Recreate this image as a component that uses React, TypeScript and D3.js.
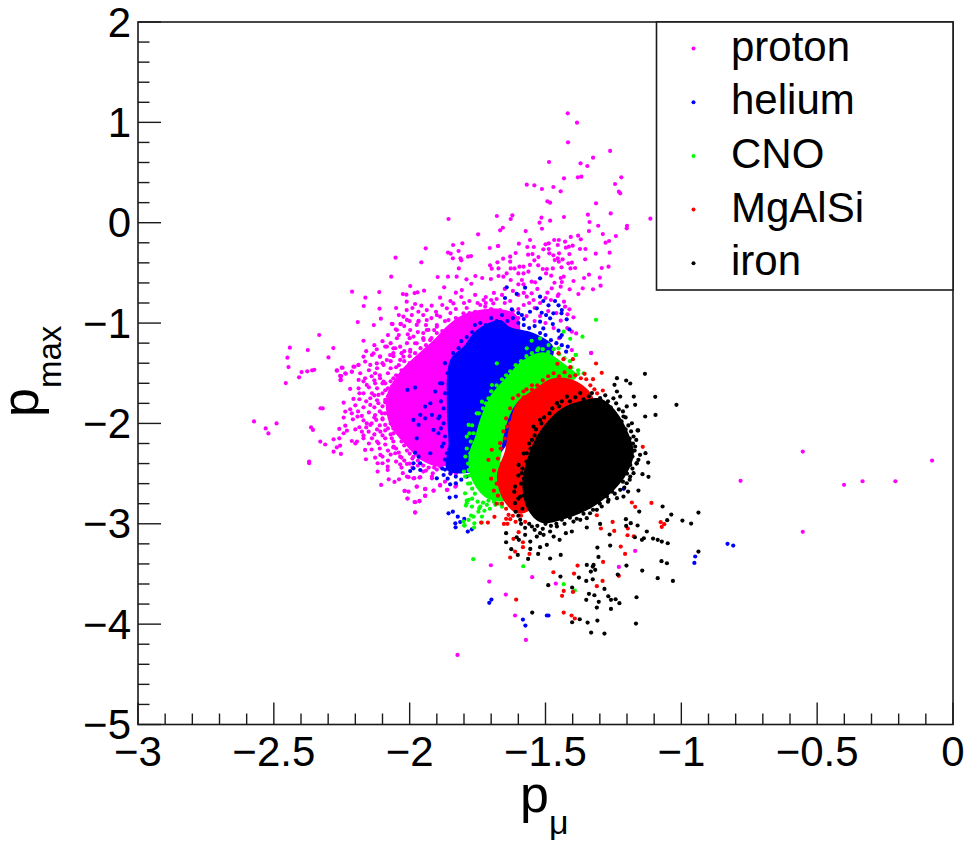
import React from "react";
import * as d3 from "d3";

type P = [number, number];

const seriesNames = ["proton", "helium", "CNO", "MgAlSi", "iron"];
const seriesColors = ["#ff00ff", "#0000ff", "#00ff00", "#ff0000", "#000000"];
const xTickValues = [-3, -2.5, -2, -1.5, -1, -0.5, 0];
const xTickLabels = ["−3", "−2.5", "−2", "−1.5", "−1", "−0.5", "0"];
const yTickValues = [-5, -4, -3, -2, -1, 0, 1, 2];
const yTickLabels = ["−5", "−4", "−3", "−2", "−1", "0", "1", "2"];

// Outlines of the regions where thousands of points merge into a solid colour.
const protonDense: P[] = [[-2.085,-1.733],[-2.04,-1.5],[-1.98,-1.334],[-1.912,-1.168],[-1.851,-1.002],[-1.79,-0.902],[-1.667,-0.86],[-1.6,-0.95],[-1.667,-1.866],[-1.79,-2.264],[-1.875,-2.43],[-1.949,-2.38],[-2.02,-2.2],[-2.075,-1.999]];
const heliumDense: P[] = [[-1.863,-1.866],[-1.851,-1.367],[-1.802,-1.234],[-1.753,-1.068],[-1.667,-0.969],[-1.63,-1.04],[-1.544,-1.1],[-1.471,-1.24],[-1.5,-1.5],[-1.7,-2.4],[-1.802,-2.497],[-1.863,-2.464],[-1.857,-2.198]];
const cnoDense: P[] = [[-1.741,-1.964],[-1.704,-1.732],[-1.642,-1.532],[-1.581,-1.366],[-1.507,-1.29],[-1.434,-1.4],[-1.385,-1.532],[-1.606,-1.798],[-1.667,-2.496],[-1.642,-2.762],[-1.716,-2.745],[-1.771,-2.562],[-1.783,-2.33],[-1.759,-2.13]];
const mgalsiDense: P[] = [[-1.606,-1.798],[-1.544,-1.665],[-1.471,-1.549],[-1.385,-1.582],[-1.323,-1.765],[-1.421,-2.164],[-1.556,-2.861],[-1.606,-2.895],[-1.655,-2.762],[-1.679,-2.529],[-1.648,-2.263],[-1.636,-2.064]];
const ironDense: P[] = [[-1.372,-1.78],[-1.30,-1.75],[-1.24,-1.88],[-1.195,-2.097],[-1.175,-2.297],[-1.2,-2.496],[-1.25,-2.67],[-1.33,-2.84],[-1.421,-2.945],[-1.515,-2.99],[-1.565,-2.861],[-1.585,-2.629],[-1.575,-2.43],[-1.545,-2.197],[-1.505,-2.02],[-1.44,-1.85]];

const protonPoints: P[] = [
[-1.418,1.09],[-1.384,0.997],[-1.417,0.801],[-1.262,0.715],[-1.325,0.648],[-1.487,0.605],[-1.371,0.592],[-1.346,0.565],[-1.432,0.442],[-1.381,0.452],[-1.368,0.459],[-1.221,0.452],[-1.244,0.386],[-1.23,0.309],[-1.225,0.293],[-1.569,0.379],[-1.541,0.373],[-1.513,0.336],[-1.471,0.356],[-1.444,0.313],[-1.493,0.213],[-1.483,0.2],[-1.314,0.193],[-1.26,0.093],[-1.344,0.08],[-1.432,0.057],[-1.114,0.04],[-1.679,0.067],[-1.622,0.074],[-1.628,0.037],[-1.515,0.05],[-1.522,0.0],[-1.483,0.02],[-1.338,0.007],[-1.657,-0.05],[-1.667,-0.076],[-1.513,-0.06],[-1.573,-0.083],[-1.306,-0.03],[-1.2,-0.03],[-1.201,-0.056],[-1.34,-0.083],[-1.289,-0.113],[-1.241,-0.133],[-1.38,-0.129],[-1.407,-0.142],[-1.37,-0.166],[-1.279,-0.199],[-1.266,-0.182],[-1.451,-0.172],[-1.468,-0.172],[-1.557,-0.172],[-1.598,-0.209],[-1.675,-0.232],[-1.5,-0.215],[-1.488,-0.205],[-1.455,-0.222],[-1.428,-0.189],[-1.425,-0.249],[-1.4,-0.229],[-1.414,-0.239],[-1.373,-0.262],[-1.353,-0.262],[-1.567,-0.242],[-1.543,-0.242],[-1.508,-0.265],[-1.61,-0.302],[-1.264,-0.299],[-1.315,-0.309],[-1.548,-0.312],[-1.564,-0.318],[-1.412,-0.312],[-1.488,-0.262],[-1.486,-0.305],[-1.471,-0.325],[-1.45,-0.305],[-1.455,-0.355],[-1.526,-0.342],[-1.63,-0.338],[-1.656,-0.358],[-1.354,-0.365],[-1.466,-0.372],[-1.437,-0.365],[-1.541,-0.375],[-1.63,-0.388],[-1.677,-0.395],[-1.416,-0.405],[-1.403,-0.398],[-1.451,-0.388],[-1.557,-0.421],[-1.527,-0.425],[-1.596,-0.438],[-1.581,-0.438],[-1.441,-0.445],[-1.293,-0.451],[-1.268,-0.438],[-1.391,-0.451],[-1.408,-0.455],[-1.628,-0.455],[-1.614,-0.455],[-1.673,-0.455],[-1.473,-0.455],[-1.495,-0.461],[-1.51,-0.461],[-1.563,-0.488],[-1.581,-0.505],[-1.6,-0.505],[-1.643,-0.505],[-1.673,-0.531],[-1.655,-0.538],[-1.34,-0.518],[-1.358,-0.551],[-1.3,-0.548],[-1.433,-0.538],[-1.444,-0.551],[-1.479,-0.528],[-1.498,-0.505],[-1.551,-0.588],[-1.538,-0.594],[-1.587,-0.571],[-1.6,-0.614],[-1.581,-0.614],[-1.628,-0.571],[-1.397,-0.581],[-1.44,-0.591],[-1.467,-0.598],[-1.297,-0.627],[-1.363,-0.654],[-1.325,-0.664],[-1.411,-0.664],[-1.379,-0.711],[-1.444,-0.637],[-1.477,-0.654],[-1.493,-0.697],[-1.452,-0.714],[-1.455,-0.73],[-1.551,-0.704],[-1.569,-0.737],[-1.544,-0.77],[-1.432,-0.787],[-1.428,-0.837],[-1.412,-0.863],[-1.419,-0.913],[-1.397,-0.943],[-1.444,-0.976],[-1.403,-1.086],[-1.387,-1.103],[-1.403,-1.269],[-1.332,-1.299],
[-1.705,-0.252],[-1.674,-0.232],[-1.806,-0.205],[-1.84,-0.222],[-1.941,-0.255],[-1.748,-0.116],[-1.857,0.037],[-1.859,-0.298],[-1.849,-0.308],[-1.82,-0.282],[-1.841,-0.355],[-1.785,-0.338],[-1.774,-0.332],[-1.813,-0.355],[-1.81,-0.375],[-2.052,-0.348],[-1.957,-0.395],[-1.704,-0.425],[-1.698,-0.458],[-1.819,-0.455],[-2.068,-0.538],[-1.897,-0.541],[-1.859,-0.538],[-1.827,-0.538],[-1.791,-0.564],[-1.758,-0.531],[-1.733,-0.551],[-1.773,-0.608],[-1.701,-0.561],[-1.998,-0.631],[-1.873,-0.644],[-2.212,-0.687],[-2.112,-0.691],[-2.025,-0.711],[-2.012,-0.717],[-1.982,-0.701],[-1.971,-0.694],[-1.947,-0.677],[-2.163,-0.747],[-2.169,-0.83],[-2.111,-0.857],[-2.106,-0.956],[-2.191,-0.99],[-2.132,-1.02],[-2.063,-1.01],[-2.034,-1.01],[-2.333,-1.119],[-2.17,-1.176],[-2.441,-1.245],[-2.375,-1.269],[-2.281,-1.249],[-2.45,-1.345],[-2.299,-1.342],[-2.446,-1.438],[-2.398,-1.488],[-2.377,-1.481],[-2.359,-1.471],[-2.351,-1.465],[-2.407,-1.541],[-2.456,-1.598],[-2.268,-1.471],[-2.247,-1.445],[-2.252,-1.528],[-2.255,-1.568],[-2.235,-1.505],[-2.213,-1.485],[-2.203,-1.435],[-2.189,-1.418],
[-2.573,-1.98],[-2.52,-2.1],[-2.49,-2.0],[-2.53,-2.05],[-2.37,-2.38],[-2.32,-1.85],[-2.363,-2.04],[-2.311,-2.21],
[-0.553,-2.28],[-0.077,-2.37],[-0.782,-2.572],[-0.401,-2.612],[-0.333,-2.576],[-0.212,-2.576],[-0.553,-3.08],[-1.17,-3.27],[-1.23,-3.43],[-1.332,-1.297],[-1.701,-3.413],[-1.707,-3.576],[-1.549,-3.532],[-1.462,-3.596],[-1.646,-3.705],[-1.612,-3.914],[-1.572,-4.157],[-1.824,-4.307],
[-1.98,-2.888],[-2.008,-2.748],[-2.018,-2.672],[-1.98,-2.785],[-1.964,-2.772],[-1.943,-2.655],[-1.943,-2.722],[-1.912,-2.669],[-1.861,-2.662],[-1.829,-2.622],[-1.974,-2.629],[-2.025,-2.496],[-2.004,-2.536],[-1.983,-2.546],[-1.961,-2.536],[-1.918,-2.529],[-1.888,-2.619],
[-2.066,-1.008],[-2.032,-1.008],[-2.01,-0.969],[-1.967,-0.979],[-2.051,-1.062],[-2.007,-1.112],[-1.986,-1.135],[-1.974,-1.018],[-1.931,-1.068],[-2.047,-1.151],[-1.949,-1.168],[-1.98,-1.201],[-1.998,-1.268],[-2.053,-1.251],[-2.09,-1.234],[-2.121,-1.261],[-2.139,-1.318],[-2.109,-1.334],[-2.072,-1.318],[-2.035,-1.367],[-2.164,-1.384],[-2.188,-1.417],[-2.207,-1.434],[-2.145,-1.417],[-2.096,-1.417],[-2.25,-1.444],[-2.268,-1.474],[-2.213,-1.484],[-2.237,-1.5],[-2.256,-1.527],[-2.253,-1.567],[-2.182,-1.5],[-2.127,-1.5],[-2.164,-1.55],[-2.188,-1.567],[-2.109,-1.55],[-2.219,-1.656],[-2.188,-1.65],[-2.158,-1.616],[-2.127,-1.6],[-2.096,-1.583],[-2.207,-1.756],[-2.185,-1.7],[-2.185,-1.759],[-2.139,-1.7],[-2.145,-1.749],[-2.115,-1.716],[-2.243,-1.793],[-2.145,-1.816],[-2.115,-1.799],[-2.09,-1.766],[-2.328,-1.849],[-2.237,-1.882],[-2.219,-1.859],[-2.213,-1.899],[-2.243,-1.942],[-2.209,-1.959],[-2.192,-1.932],[-2.176,-1.925],[-2.127,-1.916],[-2.102,-1.899],[-2.158,-1.999],[-2.145,-2.015],[-2.237,-2.022],[-2.123,-1.965],[-2.185,-2.038],[-2.09,-2.015],[-2.259,-2.055],[-2.356,-2.065],[-2.231,-2.072],[-2.176,-2.082],[-2.151,-2.082],[-2.243,-2.098],[-2.108,-2.082],[-2.329,-2.181],[-2.28,-2.158],[-2.259,-2.148],[-2.213,-2.175],[-2.194,-2.181],[-2.17,-2.148],[-2.139,-2.148],[-2.268,-2.238],[-2.256,-2.221],[-2.28,-2.281],[-2.253,-2.304],[-2.164,-2.264],[-2.09,-2.148],[-2.066,-2.148],[-2.115,-2.198],[-2.059,-2.231],[-2.108,-2.314],[-2.127,-2.341],[-2.161,-2.357],[-2.053,-2.297],[-2.035,-2.331],[-2.37,-2.397],[-2.118,-2.397],[-2.1,-2.397],[-2.081,-2.431],[-2.081,-2.464],[-2.118,-2.48],[-2.035,-2.407],[-2.01,-2.404],[-1.986,-2.331],[-2.105,-2.613],[-2.077,-2.557],[-2.056,-2.583],[-2.039,-2.557],[-2.01,-2.53],[-1.986,-2.547],[-1.964,-2.54],[-1.974,-2.63],[-1.943,-2.653],[-1.912,-2.67],[-2.019,-2.673],[-2.004,-2.68],[-2.008,-2.749],[-1.943,-2.72],[-1.982,-2.783],[-1.964,-2.776],[-1.98,-2.886],[-1.863,-2.663],[-1.832,-2.63],[-1.915,-2.497],[-1.888,-2.43],[-1.918,-2.547],[-1.888,-2.613],
[-2.011,-0.787],[-1.98,-0.81],[-1.957,-0.827],[-1.937,-0.87],[-1.919,-0.827],[-1.903,-0.887],[-1.888,-0.747],[-1.863,-0.853],[-1.839,-0.804],[-1.802,-0.903],[-1.759,-0.887],[-1.722,-0.837],[-1.692,-0.804],[-1.667,-0.87],[-1.728,-0.77],[-1.759,-0.72],[-1.808,-0.671],[-1.83,-0.697],[-1.888,-0.936],[-1.937,-0.97],[-1.968,-0.887],[-1.992,-0.92],[-2.011,-0.87],[-2.023,-0.936],[-1.968,-0.986],[-1.998,-1.069],[-2.047,-1.069],[-1.937,-1.069],[-1.9,-1.036],[-1.857,-0.97],[-1.827,-1.003],[-1.778,-1.036],[-1.925,-1.169],[-1.876,-1.169],[-1.827,-1.169],[-1.974,-1.202],[-2.035,-1.235],[-2.06,-1.252],[-2.084,-1.235],[-2.109,-1.335],[-2.133,-1.302],[-2.17,-1.335],[-2.121,-1.402],[-2.084,-1.368],[-2.023,-1.335],[-1.998,-1.285],
[-1.65,-0.8],[-1.63,-0.78],[-1.6,-0.72],[-1.58,-0.82],[-1.56,-0.8],[-1.62,-0.88],[-1.6,-0.86],[-1.54,-0.85],[-1.52,-0.8],[-1.5,-0.75],[-1.48,-0.77],[-1.53,-0.66],[-1.6,-0.95],[-1.57,-0.93],[-1.5,-1.0],[-1.47,-1.05],[-1.45,-1.15],[-1.42,-1.05],[-1.46,-0.9],[-1.49,-0.88],[-1.52,-0.93],[-1.54,-0.98],
[-2.09,-1.6],[-2.06,-1.55],[-2.08,-1.65],[-2.07,-1.45],[-2.04,-1.42],[-2.02,-1.38],[-2.0,-1.4],[-1.98,-1.3],[-1.96,-1.25],[-1.94,-1.22],[-1.92,-1.15],[-1.9,-1.1],[-1.88,-1.08],[-1.85,-1.05],[-1.83,-0.95],[-1.8,-0.95],[-1.78,-0.9],[-1.76,-0.95],[-1.74,-0.82],[-1.7,-0.86],[-1.72,-0.74],[-1.68,-0.76],[-1.66,-0.72],[-1.8,-0.8],[-1.85,-0.9],[-1.9,-0.92],[-1.95,-1.1],[-2.0,-1.15],[-2.03,-1.3],[-2.06,-1.33],
[-2.08,-1.85],[-2.1,-1.95],[-2.08,-2.05],[-2.06,-2.1],[-2.04,-2.02],[-2.03,-2.18],[-2.01,-2.27],[-1.99,-2.25],[-1.97,-2.37],[-1.95,-2.42],[-1.93,-2.44],[-1.9,-2.46],[-1.85,-2.5],[-1.83,-2.5],[-1.87,-2.58],[-1.95,-2.48],[-1.99,-2.44],[-2.03,-2.34],[-2.06,-2.24],
[-2.06,-1.3],[-2.02,-1.28],[-2.0,-1.33],[-2.1,-1.4],[-2.07,-1.38],[-2.05,-1.44],[-2.12,-1.45],[-2.03,-1.47],[-2.15,-1.47],[-2.11,-1.52],[-2.08,-1.5],[-2.05,-1.52],[-2.14,-1.53],[-2.17,-1.58],[-2.13,-1.57],[-2.1,-1.6],[-2.07,-1.58],[-2.15,-1.64],[-2.12,-1.65],[-2.09,-1.67],[-2.065,-1.63],[-2.17,-1.7],[-2.13,-1.72],[-2.1,-1.7],[-2.08,-1.73],[-2.16,-1.78],[-2.12,-1.77],[-2.09,-1.79],[-2.07,-1.76],[-2.2,-1.82],[-2.17,-1.84],[-2.13,-1.84],[-2.1,-1.83],[-2.08,-1.82],[-2.19,-1.88],[-2.15,-1.89],[-2.11,-1.88],[-2.09,-1.9],[-2.17,-1.97],[-2.13,-1.94],[-2.1,-1.96],[-2.07,-1.94],[-2.14,-2.0],[-2.11,-2.02],[-2.07,-2.0],[-2.2,-2.06],[-2.16,-2.04],[-2.12,-2.06],[-2.09,-2.07],[-2.06,-2.05],[-2.17,-2.12],[-2.13,-2.11],[-2.1,-2.12],[-2.07,-2.11],[-2.04,-2.09],[-2.2,-2.2],[-2.15,-2.2],[-2.12,-2.18],[-2.09,-2.21],[-2.06,-2.18],[-2.03,-2.14],[-2.14,-2.26],[-2.11,-2.25],[-2.08,-2.27],[-2.05,-2.25],[-2.02,-2.22],[-2.1,-2.33],[-2.07,-2.31],[-2.04,-2.29],[-2.0,-2.3],[-2.08,-2.37],[-2.05,-2.38],[-2.02,-2.37],[-1.99,-2.35],[-1.97,-2.42],[-2.0,-2.4],[-2.03,-2.44],[-1.94,-2.47],[-1.91,-2.44],
[-2.05,-0.85],[-2.04,-0.92],[-1.99,-0.85],[-1.95,-0.92],[-1.92,-0.95],[-1.88,-0.82],[-1.85,-0.78],[-1.81,-0.74],[-1.78,-0.78],[-1.75,-0.8],[-1.72,-0.8],[-1.69,-0.7],[-1.65,-0.66],[-1.62,-0.68],[-1.58,-0.7],[-1.94,-1.02],[-1.9,-1.02],[-1.87,-0.98],[-1.83,-1.06],[-1.97,-1.09],[-2.02,-1.03],[-2.0,-0.98],[-2.04,-1.12],[-2.01,-1.2],[-1.95,-1.15],[-1.91,-1.07],[-2.08,-1.12],[-2.1,-1.18],[-2.13,-1.22],[-2.16,-1.28],[-2.07,-1.2],[-1.79,-0.85],[-1.83,-0.86],[-1.7,-0.77],
];

const heliumPoints: P[] = [
[-1.52,-0.554],[-1.643,-0.644],[-1.575,-0.647],[-1.606,-0.71],[-1.649,-0.75],[-1.52,-0.737],[-1.465,-0.78],[-1.508,-0.78],[-1.452,-0.823],[-1.489,-0.823],[-1.44,-0.87],[-1.441,-0.903],[-1.471,-0.903],[-1.498,-0.92],[-1.514,-0.897],[-1.483,-0.953],[-1.52,-0.986],[-1.422,-0.963],[-1.473,-1.01],[-1.508,-1.053],[-1.412,-1.063],[-1.452,-1.076],[-1.44,-1.119],[-1.446,-1.142],[-1.532,-0.853],[-1.557,-0.887],[-1.587,-0.92],[-1.624,-0.863],[-1.418,-1.235],[-1.424,-1.285],
[-1.98,-1.643],[-2.008,-1.666],[-1.906,-1.683],[-1.888,-1.6],[-1.943,-1.832],[-1.924,-1.799],[-1.961,-1.915],[-1.986,-1.965],[-1.967,-2.015],[-1.943,-1.949],[-1.918,-1.915],[-1.894,-1.949],[-1.912,-2.065],[-1.894,-2.098],[-1.974,-2.148],[-1.881,-2.231],[-1.863,-2.297],[-1.924,-2.297],[-1.98,-2.291],[-1.967,-2.331],[-1.961,-2.397],[-1.986,-2.397],[-1.998,-2.474],[-1.986,-2.447],[-1.961,-2.464],[-1.9,-2.547],[-1.875,-2.514],[-1.851,-2.607],[-1.83,-2.597],[-1.853,-2.739],[-1.83,-2.729],[-1.857,-2.896],[-1.841,-2.879],[-1.823,-2.929],[-1.832,-2.995],[-1.831,-3.035],[-1.814,-2.982],[-1.799,-2.952],[-1.771,-3.055],[-1.786,-3.078],
[-0.949,-3.326],[-0.952,-3.39],[-1.707,-3.788],[-1.699,-3.755],[-1.583,-3.954],[-1.574,-4.014],[-1.495,-3.914],[-1.489,-3.914],[-1.212,-2.652],[-0.83,-3.2],[-0.809,-3.217],
[-1.87,-2.46],[-1.85,-2.5],[-1.83,-2.53],[-1.81,-2.56],[-1.79,-2.53],[-1.86,-2.55],[-1.84,-2.47],[-1.8,-2.47],
[-1.87,-1.4],[-1.86,-1.5],[-1.88,-1.6],[-1.87,-1.7],[-1.885,-1.78],[-1.875,-1.85],[-1.89,-1.93],[-1.875,-2.0],[-1.885,-2.05],[-1.87,-2.13],[-1.875,-2.2],[-1.855,-2.26],[-1.87,-2.36],[-1.85,-2.4],[-1.88,-2.45],
[-1.84,-1.3],[-1.82,-1.25],[-1.81,-1.18],[-1.79,-1.14],[-1.77,-1.09],[-1.76,-1.02],[-1.74,-1.0],[-1.72,-1.02],[-1.7,-0.95],[-1.68,-0.98],[-1.66,-0.92],[-1.64,-0.98],[-1.62,-0.95],[-1.6,-1.0],[-1.58,-1.02],[-1.56,-1.05],[-1.54,-1.03],[-1.52,-1.1],[-1.5,-1.12],[-1.48,-1.17],[-1.46,-1.2],[-1.44,-1.22],[-1.58,-0.96],[-1.6,-0.9],
];

const cnoPoints: P[] = [
[-1.766,-3.353],[-1.582,-3.423],[-1.433,-3.602],[-1.392,-3.665],[-1.388,-1.317],[-1.38,-1.506],[-1.314,-0.968],
[-1.798,-3.014],[-1.763,-3.037],[-1.774,-2.918],[-1.802,-2.978],[-1.744,-2.845],[-1.734,-2.928],[-1.734,-2.988],[-1.783,-2.762],[-1.79,-2.795],[-1.716,-2.811],[-1.685,-2.811],
[-1.433,-1.086],[-1.409,-1.156],[-1.364,-1.136],[-1.389,-1.318],[-1.551,-1.176],[-1.452,-1.252],[-1.52,-1.153],[-1.569,-1.252],[-1.526,-1.252],[-1.489,-1.219],
[-1.783,-2.015],[-1.765,-2.098],[-1.79,-2.131],[-1.777,-2.298],[-1.765,-2.431],[-1.783,-2.464],[-1.796,-2.53],[-1.777,-2.597],[-1.796,-2.696],[-1.79,-2.769],[-1.771,-2.829],[-1.793,-2.819],[-1.74,-2.829],[-1.747,-2.879],[-1.765,-2.929],[-1.783,-2.962],[-1.799,-3.019],[-1.762,-2.995],
[-1.753,-1.899],[-1.734,-1.783],[-1.697,-1.617],[-1.679,-1.401],
[-1.745,-1.9],[-1.73,-1.85],[-1.72,-1.8],[-1.71,-1.75],[-1.7,-1.68],[-1.68,-1.62],[-1.66,-1.56],[-1.645,-1.52],[-1.63,-1.48],[-1.61,-1.42],[-1.59,-1.38],[-1.57,-1.33],[-1.55,-1.3],[-1.53,-1.27],[-1.51,-1.26],[-1.49,-1.29],[-1.47,-1.26],[-1.45,-1.31],[-1.43,-1.35],[-1.41,-1.38],[-1.405,-1.44],[-1.38,-1.47],[-1.36,-1.5],
[-1.77,-2.02],[-1.78,-2.1],[-1.775,-2.18],[-1.79,-2.25],[-1.795,-2.33],[-1.785,-2.4],[-1.8,-2.48],[-1.78,-2.52],[-1.785,-2.6],[-1.77,-2.65],[-1.76,-2.7],[-1.77,-2.75],[-1.75,-2.78],[-1.73,-2.79],[-1.71,-2.77],[-1.69,-2.78],[-1.67,-2.8],[-1.66,-2.83],[-1.705,-2.85],[-1.725,-2.87],
];

const mgalsiPoints: P[] = [
[-1.314,-1.403],[-1.293,-1.496],[-1.325,-1.559],[-1.289,-1.672],[-1.142,-2.233],[-1.11,-2.792],[-1.17,-2.831],[-1.182,-2.788],[-1.076,-2.984],[-1.063,-3.004],[-1.072,-3.031],[-1.311,-2.915],[-1.253,-2.981],[-1.296,-3.047],[-1.247,-3.071],[-1.197,-3.047],[-1.198,-3.114],[-1.175,-3.124],[-1.223,-3.227],[-1.207,-3.3],[-1.288,-3.38],[-1.382,-3.416],[-1.471,-3.483],[-1.395,-3.496],[-1.29,-3.569],[-1.311,-3.622],[-1.399,-3.679],[-1.433,-3.669],[-1.439,-3.718],[-1.608,-3.755],[-1.433,-3.885],[-1.404,-3.914],[-1.392,-3.944],[-1.63,-3.336],[-1.612,-3.277],[-1.618,-3.15],[-1.583,-3.184],[-1.583,-3.233],[-1.559,-3.3],[-1.599,-3.084],[-1.653,-3.001],[-1.688,-2.931],[-1.737,-2.988],[-1.712,-2.988],[-1.636,-2.911],[-1.645,-2.951],[-1.63,-2.954],[-1.23,-3.519],[-1.356,-1.506],
[-1.434,-1.36],[-1.399,-1.36],[-1.409,-1.439],[-1.452,-1.3],[-1.456,-1.406],
[-1.581,-1.682],[-1.55,-1.665],[-1.612,-1.898],[-1.642,-2.031],[-1.667,-2.197],[-1.698,-2.263],[-1.71,-2.363],
[-1.62,-1.75],[-1.6,-1.72],[-1.58,-1.74],[-1.57,-1.66],[-1.55,-1.62],[-1.53,-1.62],[-1.51,-1.57],[-1.49,-1.53],[-1.47,-1.5],[-1.45,-1.53],[-1.43,-1.49],[-1.41,-1.53],[-1.39,-1.52],[-1.37,-1.55],[-1.35,-1.56],[-1.335,-1.62],[-1.31,-1.7],[-1.32,-1.66],[-1.63,-1.85],[-1.645,-1.95],[-1.63,-2.0],[-1.655,-2.08],[-1.65,-2.15],[-1.665,-2.25],[-1.675,-2.35],[-1.66,-2.4],[-1.69,-2.47],[-1.7,-2.55],[-1.68,-2.6],[-1.69,-2.67],[-1.675,-2.72],[-1.66,-2.8],[-1.68,-2.8],[-1.645,-2.85],[-1.62,-2.92],[-1.61,-2.98],[-1.59,-2.92],[-1.64,-3.0],[-1.575,-2.98],
];

const ironPoints: P[] = [
[-1.134,-1.506],[-1.096,-1.735],[-1.018,-1.815],[-1.095,-1.915],[-1.133,-1.931],[-1.17,-1.815],[-1.175,-1.732],[-1.203,-1.572],[-1.237,-1.549],[-1.246,-1.615],[-1.188,-1.602],[-1.122,-2.39],[-1.121,-2.532],[-1.143,-2.506],[-1.132,-2.296],[-1.159,-2.07],[-1.166,-2.164],[-1.158,-2.669],[-1.155,-2.878],[-1.069,-2.828],[-1.037,-2.908],[-1.052,-2.964],[-0.996,-2.968],[-0.964,-2.998],[-0.937,-2.888],[-1.196,-2.679],[-1.204,-2.954],[-1.186,-2.994],[-1.203,-3.021],[-1.161,-3.017],[-1.127,-3.077],[-1.171,-3.134],[-1.145,-3.16],[-1.138,-3.144],[-1.104,-3.147],[-1.087,-3.16],[-1.072,-3.177],[-1.05,-3.194],[-0.937,-3.277],[-1.073,-3.373],[-1.053,-3.393],[-1.144,-3.466],[-1.202,-3.416],[-1.087,-3.542],[-1.031,-3.569],[-1.299,-3.001],[-1.348,-3.037],[-1.264,-3.107],[-1.262,-3.217],[-1.309,-3.237],[-1.305,-3.33],[-1.348,-3.41],[-1.323,-3.41],[-1.333,-3.476],[-1.317,-3.459],[-1.326,-3.426],[-1.377,-3.536],[-1.35,-3.569],[-1.326,-3.553],[-1.445,-3.526],[-1.234,-3.506],[-1.283,-3.649],[-1.34,-3.698],[-1.32,-3.712],[-1.269,-3.722],[-1.259,-3.758],[-1.242,-3.752],[-1.228,-3.791],[-1.165,-3.732],[-1.35,-3.758],[-1.304,-3.778],[-1.311,-3.835],[-1.259,-3.848],[-1.49,-3.612],[-1.402,-3.635],[-1.549,-3.885],[-1.374,-3.951],[-1.402,-3.981],[-1.345,-3.984],[-1.309,-3.964],[-1.167,-3.994],[-1.332,-4.084],[-1.283,-4.094],
[-1.645,-3.094],[-1.645,-3.184],[-1.626,-3.253],[-1.602,-3.31],[-1.564,-3.35],[-1.527,-3.3],[-1.483,-3.346],[-1.444,-3.31],[-1.556,-3.25],[-1.556,-3.177],[-1.52,-3.233],[-1.495,-3.21],[-1.448,-3.16],[-1.606,-3.134],[-1.598,-3.16],[-1.575,-3.11],[-1.532,-3.127],[-1.507,-3.11],[-1.47,-3.127],[-1.425,-3.094],[-1.403,-3.077],[-1.372,-2.961],[-1.348,-2.944],[-1.311,-2.861],[-1.274,-2.729],[-1.237,-2.745],[-1.213,-2.729],[-1.188,-2.529],[-1.164,-2.396],
[-1.299,-1.748],[-1.237,-1.682],[-1.225,-1.732],[-1.201,-1.831],[-1.213,-1.931],[-1.182,-1.998],[-1.176,-2.13],[-1.161,-2.07],[-1.17,-2.23],[-1.152,-2.313],[-1.188,-2.413],[-1.158,-2.363],[-1.176,-2.496],[-1.201,-2.596],[-1.225,-2.662],[-1.268,-2.762],[-1.293,-2.828],[-1.336,-2.895],[-1.397,-2.978],[-1.458,-3.027],[-1.483,-3.077],[-1.52,-3.094],[-1.55,-3.027],[-1.593,-2.961],[-1.612,-2.795],[-1.593,-2.728],[-1.612,-2.629],[-1.587,-2.496],[-1.599,-2.413],[-1.569,-2.297],[-1.55,-2.164],[-1.544,-2.031],[-1.52,-1.964],[-1.458,-1.798],[-1.421,-1.732],[-1.372,-1.698],[-1.329,-1.698],
[-1.30,-1.80],[-1.27,-1.78],[-1.26,-1.84],[-1.24,-1.80],[-1.23,-1.86],[-1.215,-1.88],[-1.25,-1.75],[-1.28,-1.72],[-1.205,-1.94],[-1.22,-1.98],[-1.195,-2.02],[-1.205,-2.06],[-1.185,-2.08],[-1.19,-2.15],[-1.178,-2.2],[-1.195,-2.23],[-1.172,-2.27],[-1.18,-2.33],[-1.165,-2.4],
[-1.195,-2.38],[-1.18,-2.45],[-1.2,-2.5],[-1.19,-2.56],[-1.215,-2.58],[-1.21,-2.64],[-1.24,-2.6],[-1.245,-2.7],[-1.255,-2.68],[-1.27,-2.78],[-1.285,-2.72],[-1.3,-2.8],[-1.31,-2.76],[-1.325,-2.86],[-1.34,-2.83],[-1.36,-2.9],[-1.38,-2.88],[-1.385,-2.95],[-1.41,-2.94],[-1.43,-3.0],[-1.44,-2.96],[-1.46,-3.0],[-1.48,-3.02],[-1.5,-3.0],[-1.51,-3.05],[-1.53,-3.02],[-1.54,-3.06],[-1.56,-3.0],[-1.575,-3.04],[-1.59,-3.0],
[-1.6,-2.92],[-1.61,-2.88],[-1.585,-2.85],[-1.6,-2.75],[-1.58,-2.72],[-1.615,-2.68],[-1.59,-2.6],[-1.58,-2.55],[-1.6,-2.52],[-1.585,-2.45],[-1.57,-2.38],[-1.58,-2.3],[-1.555,-2.25],[-1.56,-2.2],[-1.54,-2.12],[-1.535,-2.06],[-1.515,-2.0],[-1.505,-1.94],[-1.485,-1.9],[-1.475,-1.85],[-1.45,-1.83],[-1.44,-1.78],[-1.41,-1.78],[-1.39,-1.74],[-1.36,-1.76],[-1.34,-1.73],
];

const allPoints = [protonPoints, heliumPoints, cnoPoints, mgalsiPoints, ironPoints];
const allDense = [protonDense, heliumDense, cnoDense, mgalsiDense, ironDense];

const WIDTH = 968;
const HEIGHT = 843;
const LEFT = 138;
const RIGHT = 953;
const TOP = 22;
const BOTTOM = 724.5;
const FONT = "'Liberation Sans', Arial, sans-serif";
const AXIS = "#1a1a1a";

const x = d3.scaleLinear().domain([-3, 0]).range([LEFT, RIGHT]);
const y = d3.scaleLinear().domain([-5, 2]).range([BOTTOM, TOP]);
const xMinor = d3.range(0, 31).map((i) => -3 + i / 10);
const yMinor = d3.range(0, 36).map((i) => -5 + i / 5);

const denseShape = d3
  .line<P>()
  .x((d) => x(d[0]))
  .y((d) => y(d[1]))
  .curve(d3.curveCatmullRomClosed.alpha(0.5));

export default function App() {
  return (
    <svg
      width={WIDTH}
      height={HEIGHT}
      viewBox={`0 0 ${WIDTH} ${HEIGHT}`}
      style={{ position: "absolute", left: 0, top: 0, background: "#fff" }}
      fontFamily={FONT}
    >
      {seriesNames.map((name, i) => (
        <g key={name} fill={seriesColors[i]}>
          <path d={denseShape(allDense[i]) ?? ""} />
          {allPoints[i].map((p, j) => (
            <circle key={j} cx={x(p[0])} cy={y(p[1])} r={2.1} />
          ))}
        </g>
      ))}

      <g stroke={AXIS} strokeWidth={1.4}>
        {xMinor.map((v) => {
          const major = Math.abs(v * 2 - Math.round(v * 2)) < 1e-6;
          return <line key={v} x1={x(v)} x2={x(v)} y1={BOTTOM} y2={BOTTOM - (major ? 22 : 11)} />;
        })}
        {yMinor.map((v) => {
          const major = Math.abs(v - Math.round(v)) < 1e-6;
          return <line key={v} x1={LEFT} x2={LEFT + (major ? 23 : 11.5)} y1={y(v)} y2={y(v)} />;
        })}
      </g>
      <rect x={LEFT} y={TOP} width={RIGHT - LEFT} height={BOTTOM - TOP} fill="none" stroke={AXIS} strokeWidth={1.6} />

      <g fontSize={42} fill="#000">
        {xTickValues.map((v, i) => (
          <text key={v} x={x(v)} y={766} textAnchor="middle">{xTickLabels[i]}</text>
        ))}
        {yTickValues.map((v, i) => (
          <text key={v} x={131} y={y(v) + 14.5} textAnchor="end">{yTickLabels[i]}</text>
        ))}
      </g>

      <text x={520} y={812} fontSize={52} fill="#000">
        p<tspan fontSize={34} dy={22}>μ</tspan>
      </text>
      <text transform="translate(38,417) rotate(-90)" fontSize={52} fill="#000">
        p<tspan fontSize={33} dy={23}>max</tspan>
      </text>

      <g>
        <rect x={656.5} y={22} width={296.5} height={268} fill="#fff" stroke={AXIS} strokeWidth={1.6} />
        {seriesNames.map((name, i) => {
          const rowY = 48.5 + i * 53.7;
          return (
            <g key={name}>
              <circle cx={693.5} cy={rowY} r={2} fill={seriesColors[i]} />
              <text x={731} y={rowY + 12} fontSize={42} fill="#000">{name}</text>
            </g>
          );
        })}
      </g>
    </svg>
  );
}
